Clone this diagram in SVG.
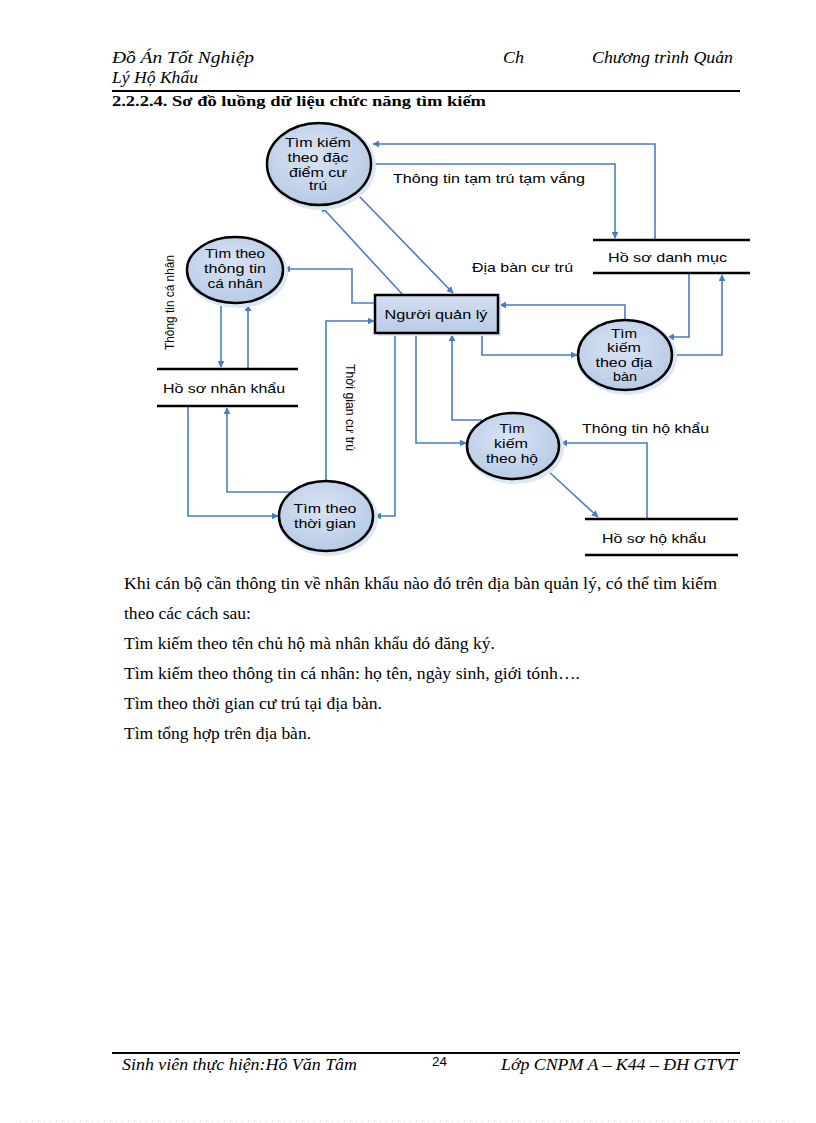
<svg xmlns="http://www.w3.org/2000/svg" width="816" height="1123" viewBox="0 0 816 1123">
<style>
.hdr{font-family:"Liberation Serif",serif;font-style:italic;font-size:16px;fill:#000}
.h2{font-family:"Liberation Serif",serif;font-weight:bold;font-size:14.5px;fill:#000}
.body{font-family:"Liberation Serif",serif;font-size:16px;fill:#000}
.lbl{font-family:"Liberation Sans",Arial,sans-serif;font-size:13px;fill:#000}
.nt{font-family:"Liberation Sans",Arial,sans-serif;font-size:13px;fill:#000;text-anchor:middle}
.proc{fill:url(#eg);stroke:#000;stroke-width:2.5}
.halo{fill:#dde7f3}
.store{stroke:#000;stroke-width:2.5}
.con{fill:none;stroke:#4a7cc4;stroke-width:1.6;marker-end:url(#ah)}
.rule{stroke:#000;stroke-width:2}
</style>
<defs>
<radialGradient id="eg" cx="0.45" cy="0.4" r="0.65">
<stop offset="0" stop-color="#d9e4f3"/>
<stop offset="1" stop-color="#b5c9e5"/>
</radialGradient>
<linearGradient id="bg" x1="0" y1="0" x2="0" y2="1">
<stop offset="0" stop-color="#d3dff0"/>
<stop offset="1" stop-color="#b9cbe6"/>
</linearGradient>
<marker id="ah" viewBox="0 0 10 10" refX="9" refY="5" markerWidth="7" markerHeight="7" markerUnits="userSpaceOnUse" orient="auto">
<path d="M0,0 L10,5 L0,10 Z" fill="#4a7cc4"/>
</marker>
</defs>
<rect width="816" height="1123" fill="#fff"/>

<g id="header">
<text class="hdr" x="112" y="63" textLength="142" lengthAdjust="spacingAndGlyphs">Đồ Án Tốt Nghiệp</text>
<text class="hdr" x="503" y="63" textLength="21" lengthAdjust="spacingAndGlyphs">Ch</text>
<text class="hdr" x="592" y="63" textLength="141" lengthAdjust="spacingAndGlyphs">Chương trình Quản</text>
<text class="hdr" x="112" y="83" textLength="86" lengthAdjust="spacingAndGlyphs">Lý Hộ Khẩu</text>
<line class="rule" x1="112" y1="91" x2="740" y2="91"/>
<text class="h2" x="112" y="106" textLength="374" lengthAdjust="spacingAndGlyphs">2.2.2.4. Sơ đồ luồng dữ liệu chức năng tìm kiếm</text>
</g>

<g id="connectors">
<path class="con" d="M655,240 V144 H373"/>
<path class="con" d="M372,164 H615 V238"/>
<path class="con" d="M403,295 L321,206"/>
<path class="con" d="M358,195 L453,293"/>
<path class="con" d="M375,303 H352 V269 H284"/>
<path class="con" d="M221,303 V367"/>
<path class="con" d="M248,369 V305"/>
<path class="con" d="M326,482 V321 H374"/>
<path class="con" d="M188,406 V516 H278"/>
<path class="con" d="M293,492 H227 V408"/>
<path class="con" d="M395,333 V516 H375"/>
<path class="con" d="M416,333 V443 H466"/>
<path class="con" d="M482,420 H452 V335"/>
<path class="con" d="M647,518 V443 H561"/>
<path class="con" d="M547,470 L598,517"/>
<path class="con" d="M625,321 V305 H500"/>
<path class="con" d="M482,333 V355 H577"/>
<path class="con" d="M689,273 V337 H668"/>
<path class="con" d="M672,355 H722 V275"/>
</g>

<g id="p-dac-diem">
<ellipse class="halo" cx="321" cy="166" rx="55" ry="44"/>
<ellipse class="proc" cx="319" cy="164" rx="52" ry="41"/>
<text class="nt" x="318" y="147" textLength="66" lengthAdjust="spacingAndGlyphs">Tìm kiếm</text>
<text class="nt" x="318" y="162" textLength="61" lengthAdjust="spacingAndGlyphs">theo đặc</text>
<text class="nt" x="318" y="177" textLength="58" lengthAdjust="spacingAndGlyphs">điểm cư</text>
<text class="nt" x="318" y="190" textLength="18" lengthAdjust="spacingAndGlyphs">trú</text>
</g>

<g id="p-ca-nhan">
<ellipse class="halo" cx="237" cy="272" rx="51" ry="36"/>
<ellipse class="proc" cx="235" cy="270" rx="48" ry="33"/>
<text class="nt" x="235" y="258" textLength="60" lengthAdjust="spacingAndGlyphs">Tìm theo</text>
<text class="nt" x="235" y="273" textLength="62" lengthAdjust="spacingAndGlyphs">thông tin</text>
<text class="nt" x="235" y="288" textLength="55" lengthAdjust="spacingAndGlyphs">cá nhân</text>
</g>

<g id="nguoi-quan-ly">
<rect x="378" y="297" width="123" height="39" fill="#dde7f3"/>
<rect x="375" y="295" width="123" height="38" fill="url(#bg)" stroke="#000" stroke-width="2.5"/>
<text class="nt" x="436" y="319" textLength="103" lengthAdjust="spacingAndGlyphs">Người quản lý</text>
</g>

<g id="p-dia-ban">
<ellipse class="halo" cx="627" cy="357" rx="50" ry="38"/>
<ellipse class="proc" cx="625" cy="355" rx="47" ry="35"/>
<text class="nt" x="624" y="338" textLength="26" lengthAdjust="spacingAndGlyphs">Tìm</text>
<text class="nt" x="624" y="352" textLength="34" lengthAdjust="spacingAndGlyphs">kiếm</text>
<text class="nt" x="624" y="367" textLength="57" lengthAdjust="spacingAndGlyphs">theo địa</text>
<text class="nt" x="625" y="381" textLength="24" lengthAdjust="spacingAndGlyphs">bàn</text>
</g>

<g id="p-theo-ho">
<ellipse class="halo" cx="515" cy="448" rx="49" ry="36"/>
<ellipse class="proc" cx="513" cy="446" rx="46" ry="33"/>
<text class="nt" x="512" y="433" textLength="25" lengthAdjust="spacingAndGlyphs">Tìm</text>
<text class="nt" x="511" y="448" textLength="34" lengthAdjust="spacingAndGlyphs">kiếm</text>
<text class="nt" x="512" y="463" textLength="52" lengthAdjust="spacingAndGlyphs">theo hộ</text>
</g>

<g id="p-thoi-gian">
<ellipse class="halo" cx="328" cy="518" rx="50" ry="38"/>
<ellipse class="proc" cx="326" cy="516" rx="47" ry="35"/>
<text class="nt" x="325" y="513" textLength="63" lengthAdjust="spacingAndGlyphs">Tìm theo</text>
<text class="nt" x="325" y="528" textLength="62" lengthAdjust="spacingAndGlyphs">thời gian</text>
</g>

<g id="s-danh-muc">
<line class="store" x1="593" y1="240" x2="750" y2="240"/>
<line class="store" x1="593" y1="273" x2="750" y2="273"/>
<text class="lbl" x="608" y="262" textLength="119" lengthAdjust="spacingAndGlyphs">Hồ sơ danh mục</text>
</g>

<g id="s-nhan-khau">
<line class="store" x1="157" y1="369" x2="298" y2="369"/>
<line class="store" x1="157" y1="406" x2="298" y2="406"/>
<text class="lbl" x="163" y="393" textLength="122" lengthAdjust="spacingAndGlyphs">Hồ sơ nhân khẩu</text>
</g>

<g id="s-ho-khau">
<line class="store" x1="585" y1="519" x2="738" y2="519"/>
<line class="store" x1="585" y1="555" x2="738" y2="555"/>
<text class="lbl" x="602" y="543" textLength="104" lengthAdjust="spacingAndGlyphs">Hồ sơ hộ khẩu</text>
</g>

<g id="labels">
<text class="lbl" x="393" y="183" textLength="192" lengthAdjust="spacingAndGlyphs">Thông tin tạm trú tạm vắng</text>
<text class="lbl" x="472" y="272" textLength="101" lengthAdjust="spacingAndGlyphs">Địa bàn cư trú</text>
<text class="lbl" x="582" y="433" textLength="127" lengthAdjust="spacingAndGlyphs">Thông tin hộ khẩu</text>
<text class="lbl" transform="translate(174,350) rotate(-90)" x="0" y="0" font-size="14" textLength="95" lengthAdjust="spacingAndGlyphs">Thông tin cá nhân</text>
<text class="lbl" transform="translate(346,364) rotate(90)" x="0" y="0" font-size="14" textLength="87" lengthAdjust="spacingAndGlyphs">Thời gian cư trú</text>
</g>

<g id="body">
<text class="body" x="124" y="589" textLength="593" lengthAdjust="spacingAndGlyphs">Khi cán bộ cần thông tin về nhân  khẩu nào đó trên địa bàn quản  lý, có thể tìm kiếm</text>
<text class="body" x="124" y="619" textLength="127" lengthAdjust="spacingAndGlyphs">theo các cách sau:</text>
<text class="body" x="124" y="649" textLength="371" lengthAdjust="spacingAndGlyphs">Tìm kiếm theo tên chủ hộ mà nhân  khẩu  đó đăng ký.</text>
<text class="body" x="124" y="679" textLength="456" lengthAdjust="spacingAndGlyphs">Tìm kiếm theo thông tin cá nhân:  họ tên, ngày  sinh, giới tónh….</text>
<text class="body" x="124" y="709" textLength="258" lengthAdjust="spacingAndGlyphs">Tìm theo thời gian  cư trú tại địa bàn.</text>
<text class="body" x="124" y="739" textLength="187" lengthAdjust="spacingAndGlyphs">Tìm tổng hợp  trên địa bàn.</text>
</g>

<g id="footer">
<line class="rule" x1="112" y1="1053" x2="740" y2="1053"/>
<text class="hdr" x="122" y="1070" textLength="235" lengthAdjust="spacingAndGlyphs">Sinh viên thực hiện:Hồ Văn Tâm</text>
<text x="432" y="1066" font-family="Liberation Sans, Arial, sans-serif" font-size="13" textLength="15" lengthAdjust="spacingAndGlyphs">24</text>
<text class="hdr" x="501" y="1070" textLength="236" lengthAdjust="spacingAndGlyphs">Lớp CNPM A – K44 – ĐH GTVT</text>
<line x1="20" y1="1121" x2="796" y2="1121" stroke="#c8c8c8" stroke-width="1" stroke-dasharray="1,5"/>
</g>
</svg>
